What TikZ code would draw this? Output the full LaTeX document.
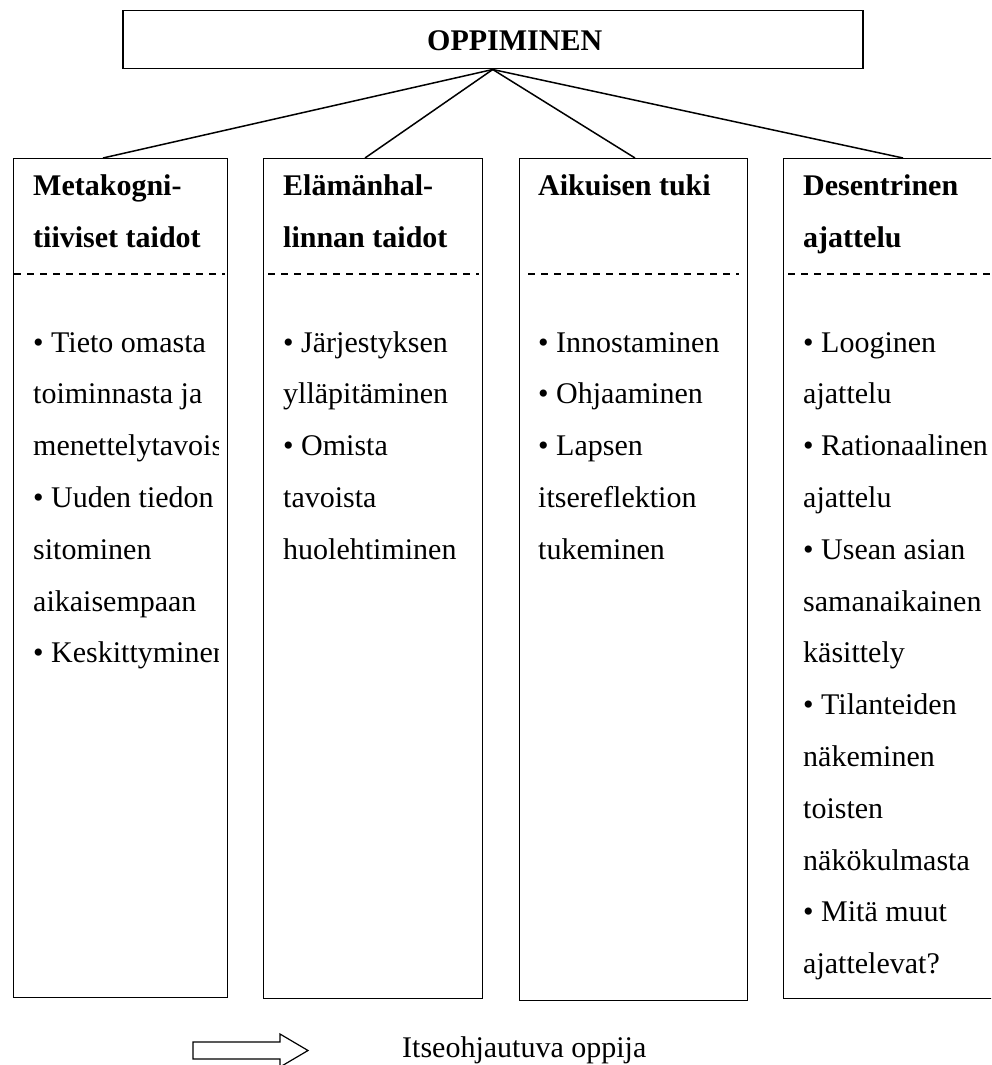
\documentclass[tikz,border=0pt]{standalone}
\usepackage{fontspec}
\setmainfont{Liberation Serif}
\usetikzlibrary{calc}
\tikzset{
  topbox/.style={draw, line width=1.5pt, anchor=north west, inner sep=0pt},
  colbox/.style={draw, line width=1.4pt, anchor=north west, inner sep=0pt},
  conn/.style={line width=1.5pt},
  dashline/.style={line width=1.1pt, dash pattern=on 7pt off 6pt},
  hdr/.style={anchor=base west, inner sep=0pt, font=\fontsize{30}{36}\selectfont\bfseries},
  txt/.style={anchor=base west, inner sep=0pt, font=\fontsize{30}{36}\selectfont},
  blockarrow/.style={line width=1.2pt}
}
\begin{document}
\begin{tikzpicture}[x=1pt,y=-1pt]
\useasboundingbox (0,0) rectangle (991,1065);
\clip (0,0) rectangle (991,1065);
% top box
\node[topbox, minimum width=740pt, minimum height=58pt] (top) at (122,10) {};
\node[hdr] (toptxt) at (427,51) {OPPIMINEN};
% column boxes
\node[colbox, minimum width=214pt, minimum height=839pt] (b1) at (13,158) {};
\node[colbox, minimum width=219pt, minimum height=840pt] (b2) at (263,158) {};
\node[colbox, minimum width=228pt, minimum height=842pt] (b3) at (519,158) {};
\node[colbox, minimum width=240pt, minimum height=840pt] (b4) at (783,158) {};
% connectors
\draw[conn] (top.south) -- ([xshift=90pt]b1.north west);
\draw[conn] (top.south) -- ([xshift=102pt]b2.north west);
\draw[conn] (top.south) -- ([xshift=116pt]b3.north west);
\draw[conn] (top.south) -- ([xshift=120pt]b4.north west);
% dashed separators
\draw[dashline] ($(b1.north west)+(1,116)$) -- ($(b1.north east)+(-3,116)$);
\draw[dashline] ($(b2.north west)+(5,116)$) -- ($(b2.north east)+(-4,116)$);
\draw[dashline] ($(b3.north west)+(9,116)$) -- ($(b3.north east)+(-9,116)$);
\draw[dashline] ($(b4.north west)+(5,116)$) -- ($(b4.north east)+(0,116)$);
% headers
\node[hdr] (h1a) at (33,195) {Metakogni-};
\node[hdr] (h1b) at (33,247) {tiiviset taidot};
\node[hdr] (h2a) at (283,195) {Elämänhal-};
\node[hdr] (h2b) at (283,247) {linnan taidot};
\node[hdr] (h3a) at (538,195) {Aikuisen tuki};
\node[hdr] (h4a) at (803,195) {Desentrinen};
\node[hdr] (h4b) at (803,247) {ajattelu};
% column 1 text (clipped to box)
\begin{scope}
\clip (13,158) rectangle (218,998);
\foreach \t [count=\i] in {• Tieto omasta, toiminnasta ja, menettelytavoista, • Uuden tiedon, sitominen, aikaisempaan, • Keskittyminen}
  \node[txt] (ta\i) at (33,{352+51.8*(\i-1)}) {\t};
\end{scope}
% column 2 text
\foreach \t [count=\i] in {• Järjestyksen, ylläpitäminen, • Omista, tavoista, huolehtiminen}
  \node[txt] (tb\i) at (283,{352+51.8*(\i-1)}) {\t};
% column 3 text
\foreach \t [count=\i] in {• Innostaminen, • Ohjaaminen, • Lapsen, itsereflektion, tukeminen}
  \node[txt] (tc\i) at (538,{352+51.8*(\i-1)}) {\t};
% column 4 text
\foreach \t [count=\i] in {• Looginen, ajattelu, • Rationaalinen, ajattelu, • Usean asian, samanaikainen, käsittely, • Tilanteiden, näkeminen, toisten, näkökulmasta, • Mitä muut, ajattelevat?}
  \node[txt] (td\i) at (803,{352+51.8*(\i-1)}) {\t};
% bottom block arrow and label
\coordinate (arrtail) at (193,1050.5);
\draw[blockarrow] (arrtail) ++(0,-8.5) -- (280,1042) -- (280,1034) -- (308,1050.5) -- (280,1067) -- (280,1059) -- (193,1059) -- cycle;
\node[txt] (lbl) at (402,1057) {Itseohjautuva oppija};
\end{tikzpicture}
\end{document}
